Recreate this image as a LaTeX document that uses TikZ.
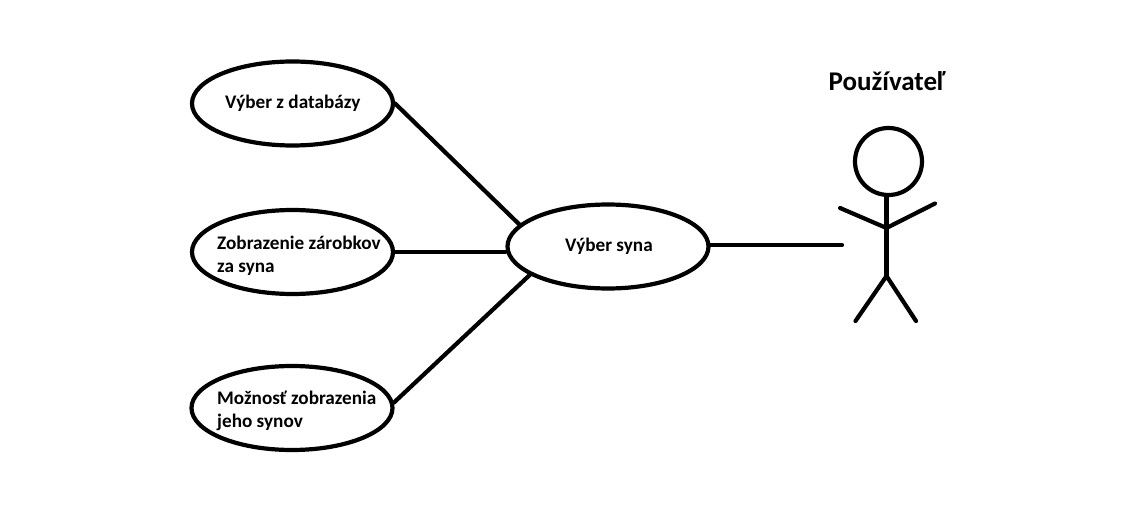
\documentclass[tikz,border=0pt]{standalone}
\usepackage{fontspec}
\setmainfont{Carlito}
\usetikzlibrary{shapes.geometric}
\tikzset{
  uc/.style={draw=black,line width=4.2bp,ellipse,minimum width=201bp,minimum height=84bp,inner sep=0pt},
  lbl/.style={font=\bfseries\fontsize{19.2bp}{23.5bp}\selectfont,align=left,text=black,inner sep=0pt},
  wire/.style={draw=black,line width=4.2bp,line cap=round},
}
\begin{document}
\begin{tikzpicture}[x=1bp,y=-1bp]
\useasboundingbox (0,0) rectangle (1136,530);
\node[uc] (a) at (292.5,103.5) {};
\node[uc] (b) at (292.5,252) {};
\node[uc] (c) at (292,408) {};
\node[uc] (d) at (608,246.5) {};
\node[lbl,anchor=west] (ta) at (225,103) {Výber z databázy};
\node[lbl,anchor=west] (tb) at (217,256) {Zobrazenie zárobkov\\za syna};
\node[lbl,anchor=west] (tc) at (217,411) {Možnosť zobrazenia\\jeho synov};
\node[lbl,anchor=west] (td) at (565,246) {Výber syna};
\node[font=\bfseries\fontsize{27bp}{30bp}\selectfont,inner sep=0pt] (title) at (887,81) {Používateľ};
\node[draw=black,line width=4.2bp,circle,minimum size=67bp,inner sep=0pt] (head) at (888.5,161.5) {};
\coordinate (neck) at (886.5,228);
\coordinate (hip) at (886.5,276);
\coordinate (hl) at (840,208);
\coordinate (hr) at (935,203.5);
\coordinate (fl) at (855.5,321);
\coordinate (fr) at (916,321);
\coordinate (hand) at (842,245);
\draw[wire] (head.south -| neck) -- (hip);
\draw[wire] (hl) -- (neck) -- (hr);
\draw[wire] (fl) -- (hip) -- (fr);
\draw[wire] (a.east) -- (d.166);
\draw[wire] (b.east) -- (b.east -| d.west);
\draw[wire] (c.3) -- (d.200);
\draw[wire] (d.east |- hand) -- (hand);
\end{tikzpicture}
\end{document}
